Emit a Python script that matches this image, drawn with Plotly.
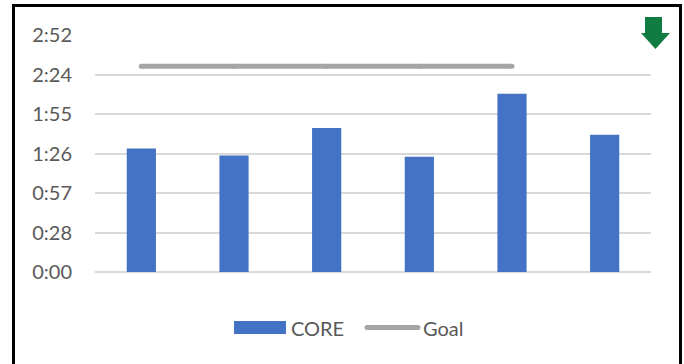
import plotly.graph_objects as go

# Data (times in seconds)
categories = ["1", "2", "3", "4", "5", "6"]
core_seconds = [90, 85, 105, 84, 130, 100]
goal_seconds = [150, 150, 150, 150, 150, None]
tick_seconds = [0, 28.8, 57.6, 86.4, 115.2, 144.0, 172.8]
tick_labels = ["0:00", "0:28", "0:57", "1:26", "1:55", "2:24", "2:52"]

W, H = 684, 364
ML, MR, MT, MB = 95, 33, 35, 92
PW, PH = W - ML - MR, H - MT - MB

FONT = "Lato"
TXT = "#595959"
GOAL_GREY = "#A5A5A5"


def px(x):
    return (x - ML) / PW


def py(y):
    return (H - MB - y) / PH


fig = go.Figure()
fig.add_trace(go.Bar(
    x=categories, y=core_seconds, name="CORE",
    marker=dict(color="#4472C4", line=dict(width=0)),
))
# markers of the line's own width give it rounded ends
fig.add_trace(go.Scatter(
    x=categories, y=goal_seconds, name="Goal", mode="lines+markers",
    line=dict(color=GOAL_GREY, width=5), connectgaps=False,
    marker=dict(size=5, color=GOAL_GREY, line=dict(width=0)),
))

shapes = []
# outer frame
shapes.append(dict(type="rect", xref="paper", yref="paper",
                   x0=px(13.5), x1=px(680.5), y0=py(390), y1=py(5.5),
                   line=dict(color="black", width=3), layer="above"))
# legend swatches
shapes.append(dict(type="rect", xref="paper", yref="paper",
                   x0=px(234), x1=px(286), y0=py(334), y1=py(321),
                   fillcolor="#4472C4", line=dict(width=0)))
shapes.append(dict(type="line", xref="paper", yref="paper",
                   x0=px(367), x1=px(418), y0=py(327.5), y1=py(327.5),
                   line=dict(color=GOAL_GREY, width=5)))
for cx in (367, 418):
    shapes.append(dict(type="circle", xref="paper", yref="paper",
                       x0=px(cx - 2.5), x1=px(cx + 2.5),
                       y0=py(330), y1=py(325),
                       fillcolor=GOAL_GREY, line=dict(width=0)))
# green down arrow
pts = [(645, 17), (662, 17), (662, 33), (670, 33), (655.5, 49), (641, 33), (645, 33)]
path = "M" + " L".join(f"{px(a):.5f},{py(b):.5f}" for a, b in pts) + " Z"
shapes.append(dict(type="path", xref="paper", yref="paper", path=path,
                   fillcolor="#107C41", line=dict(width=0)))

annotations = [
    dict(text="CORE", xref="paper", yref="paper", x=px(289), y=py(327.5),
         xanchor="left", yanchor="middle", showarrow=False,
         font=dict(family=FONT, size=20, color=TXT)),
    dict(text="Goal", xref="paper", yref="paper", x=px(421), y=py(327.5),
         xanchor="left", yanchor="middle", showarrow=False,
         font=dict(family=FONT, size=20, color=TXT)),
]

fig.update_layout(
    width=W, height=H,
    margin=dict(l=ML, r=MR, t=MT, b=MB, pad=0),
    paper_bgcolor="white", plot_bgcolor="white",
    showlegend=False,
    bargap=0.685,
    font=dict(family=FONT, size=20, color=TXT),
    shapes=shapes, annotations=annotations,
    xaxis=dict(showticklabels=False, showgrid=False, zeroline=False,
               showline=False, ticks=""),
    yaxis=dict(range=[0, 172.8], tickvals=tick_seconds, ticktext=tick_labels,
               showgrid=True, gridcolor="#D9D9D9", gridwidth=2,
               zeroline=True, zerolinecolor="#D9D9D9", zerolinewidth=2,
               showline=False, ticks="", ticklabelstandoff=22,
               tickfont=dict(family=FONT, size=20, color=TXT)),
)

fig.write_html("out.html")
